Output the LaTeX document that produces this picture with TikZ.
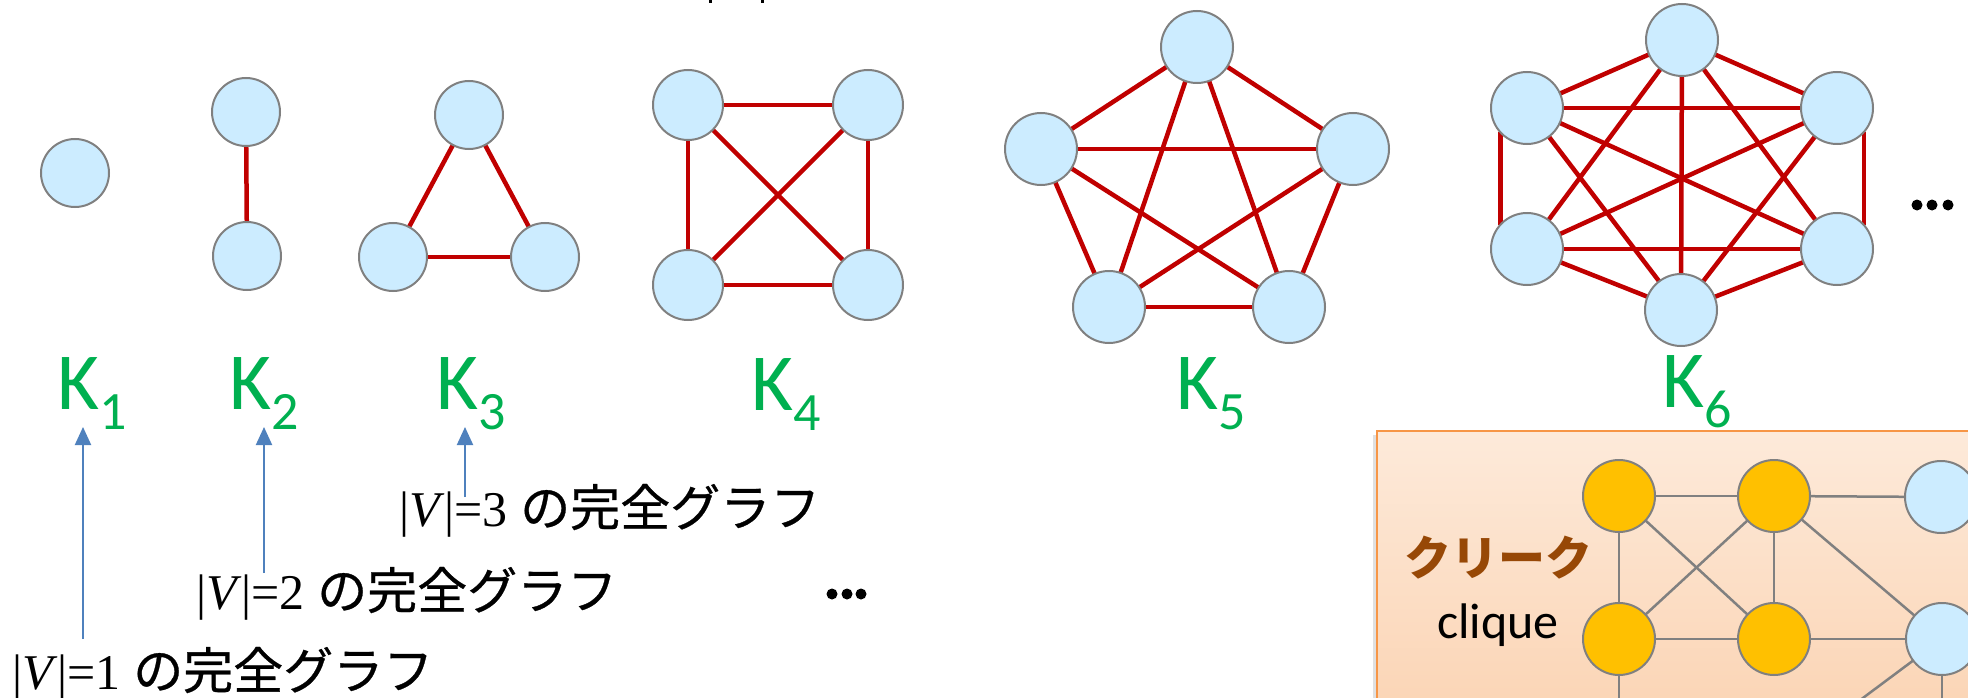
\documentclass[tikz,border=0pt]{standalone}
\usepackage{fontspec}
\setmainfont{Liberation Serif}
\newfontfamily\cjk[FakeBold=0.6]{Noto Sans CJK JP}
\newfontfamily\cjkb{Noto Sans CJK JP}
\newfontfamily\calib{Carlito}
\usetikzlibrary{arrows.meta}
\definecolor{nodeblue}{RGB}{204,236,255}
\definecolor{nodegray}{RGB}{128,128,128}
\definecolor{edgered}{RGB}{192,0,0}
\definecolor{kgreen}{RGB}{0,176,80}
\definecolor{arrowblue}{RGB}{79,129,189}
\definecolor{boxorange}{RGB}{247,150,70}
\definecolor{boxtop}{RGB}{253,234,218}
\definecolor{boxbot}{RGB}{251,212,180}
\definecolor{cliqueorange}{RGB}{255,192,0}
\definecolor{cliquebrown}{RGB}{151,72,6}
\pgfdeclarelayer{bg}
\pgfdeclarelayer{edges}
\pgfsetlayers{bg,edges,main}
\newcommand{\Klab}[1]{K\raisebox{-20pt}{\fontsize{54}{54}\selectfont #1}}
\begin{document}
\begin{tikzpicture}[x=1pt,y=-1pt,
  vtx/.style={circle,draw=nodegray,line width=2pt,fill=nodeblue,inner sep=0pt,outer sep=0pt},
  vA/.style={vtx,minimum size=68pt},
  vB/.style={vtx,minimum size=70pt},
  vC/.style={vtx,minimum size=72pt},
  vO/.style={vC,fill=cliqueorange},
  redge/.style={draw=edgered,line width=4.5pt},
  gedge/.style={draw=nodegray,line width=2.5pt},
  klabel/.style={text=kgreen,font=\calib\fontsize{81}{81}\selectfont,anchor=base west,inner sep=0pt},
  jtext/.style={font=\fontsize{50}{50}\selectfont,anchor=base west,inner sep=0pt},
  pointer/.style={draw=arrowblue,line width=2pt,-{Triangle[width=16pt,length=18pt]}},
  dotmark/.style={fill=black}
]
\useasboundingbox (0,0) rectangle (1968,698);

% clique box background
\begin{pgfonlayer}{bg}
\fill[black!12] (1373,435) rectangle (1380,720);
\shade[top color=boxtop,bottom color=boxbot] (1377,431) rectangle (1990,720);
\draw[boxorange,line width=2pt] (1377,720) -- (1377,431) -- (1990,431);
\end{pgfonlayer}

% K1
\node[vA] (k1a) at (75,173) {};
% K2
\node[vA] (k2a) at (246,112) {};
\node[vA] (k2b) at (247,256) {};
% K3
\node[vA] (k3a) at (469,115) {};
\node[vA] (k3b) at (393,257) {};
\node[vA] (k3c) at (545,257) {};
% K4
\node[vB] (k4a) at (688,105) {};
\node[vB] (k4b) at (868,105) {};
\node[vB] (k4c) at (688,285) {};
\node[vB] (k4d) at (868,285) {};
% K5
\node[vC] (k5t) at (1197,47) {};
\node[vC] (k5l) at (1041,149) {};
\node[vC] (k5r) at (1353,149) {};
\node[vC] (k5bl) at (1109,307) {};
\node[vC] (k5br) at (1289,307) {};
% K6
\node[vC] (k6t) at (1682,40) {};
\node[vC] (k6ul) at (1527,108) {};
\node[vC] (k6ur) at (1837,108) {};
\node[vC] (k6ll) at (1527,249) {};
\node[vC] (k6lr) at (1837,249) {};
\node[vC] (k6b) at (1681,310) {};
% clique graph
\node[vO] (c1) at (1619,496) {};
\node[vO] (c2) at (1774,496) {};
\node[vO] (c3) at (1619,639) {};
\node[vO] (c4) at (1774,639) {};
\node[vC] (c5) at (1941,497) {};
\node[vC] (c6) at (1942,639) {};
\coordinate (c3down) at (1619,730);
\coordinate (c6down) at (1942,730);
\coordinate (c6diag) at (1820,730);

\begin{pgfonlayer}{edges}
\draw[redge] (k2a) -- (k2b);
\draw[redge] (k3a) -- (k3b);
\draw[redge] (k3a) -- (k3c);
\draw[redge] (k3b) -- (k3c);
\draw[redge] (k4a) -- (k4b);
\draw[redge] (k4a) -- (k4c);
\draw[redge] (k4a) -- (k4d);
\draw[redge] (k4b) -- (k4c);
\draw[redge] (k4b) -- (k4d);
\draw[redge] (k4c) -- (k4d);
\foreach \a/\b in {k5t/k5l,k5t/k5r,k5t/k5bl,k5t/k5br,k5l/k5r,k5l/k5bl,k5l/k5br,k5r/k5bl,k5r/k5br,k5bl/k5br}
  \draw[redge] (\a) -- (\b);
\foreach \a/\b in {k6t/k6ul,k6t/k6ur,k6t/k6ll,k6t/k6lr,k6t/k6b,k6ul/k6ur,k6ul/k6lr,k6ul/k6b,k6ur/k6ll,k6ur/k6b,k6ll/k6lr,k6ll/k6b,k6lr/k6b}
  \draw[redge] (\a) -- (\b);
\draw[redge] (k6ul.222) -- (k6ll.138);
\draw[redge] (k6ur.318) -- (k6lr.42);
\foreach \a/\b in {c1/c2,c2/c5,c1/c3,c1/c4,c2/c3,c2/c4,c2/c6,c3/c4,c4/c6}
  \draw[gedge] (\a) -- (\b);
\draw[gedge] (c3) -- (c3down);
\draw[gedge] (c6) -- (c6down);
\draw[gedge] (c6) -- (c6diag);
\end{pgfonlayer}

% K labels
\node[klabel] (l1) at (57,409) {\Klab{1}};
\node[klabel] (l2) at (229,409) {\Klab{2}};
\node[klabel] (l3) at (436,409) {\Klab{3}};
\node[klabel] (l4) at (751,410) {\Klab{4}};
\node[klabel] (l5) at (1176,409) {\Klab{5}};
\node[klabel] (l6) at (1662,407) {\Klab{6}};

% descriptions
\node[jtext] (t1) at (12,689) {|\textit{V}|=1 {\cjk の完全グラフ}};
\node[jtext] (t2) at (196,609) {|\textit{V}|=2 {\cjk の完全グラフ}};
\node[jtext] (t3) at (399,526) {|\textit{V}|=3 {\cjk の完全グラフ}};

% pointers
\coordinate (p1s) at (83,639);
\coordinate (p1e) at (83,427);
\coordinate (p2s) at (264,573);
\coordinate (p2e) at (264,427);
\coordinate (p3s) at (465,497);
\coordinate (p3e) at (465,427);
\draw[pointer] (p1s) -- (p1e);
\draw[pointer] (p2s) -- (p2e);
\draw[pointer] (p3s) -- (p3e);

% ellipses
\foreach \x in {832,847,861} \fill (\x,594) circle (5.5);
\foreach \x in {1917,1932,1948} \fill (\x,205) circle (5.5);

% clique labels
\node[text=cliquebrown,font=\cjkb\bfseries\fontsize{47}{47}\selectfont,inner sep=0pt] (cq) at (1498,558) {クリーク};
\node[font=\calib\fontsize{50}{50}\selectfont,anchor=base,inner sep=0pt] (cqe) at (1498,638) {clique};

% cut-off marks at top
\fill[dotmark] (709,0) rectangle (712,3);
\fill[dotmark] (761,0) rectangle (764,3);
\end{tikzpicture}
\end{document}
